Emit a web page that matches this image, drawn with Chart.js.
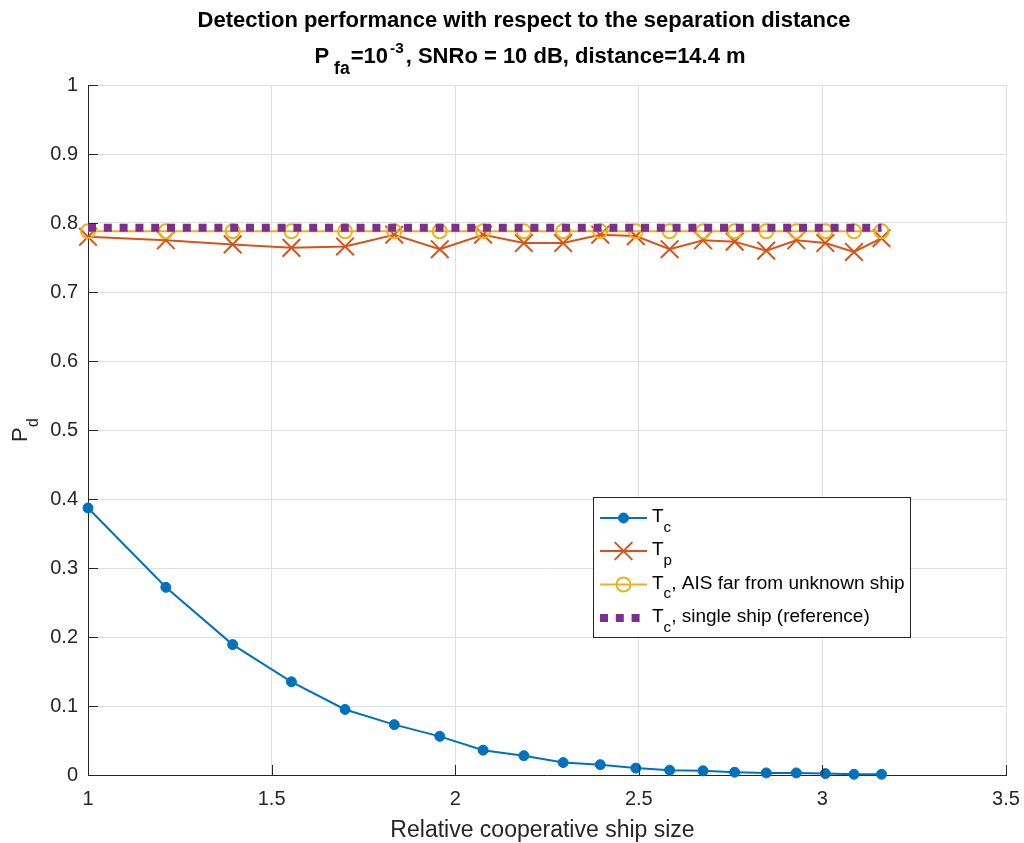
<!DOCTYPE html>
<html><head><meta charset="utf-8">
<script src="https://cdn.jsdelivr.net/npm/chart.js@4/dist/chart.umd.min.js"></script>
<style>html,body{margin:0;padding:0;background:#fff}#wrap{width:1024px;height:843px}</style>
</head><body><div id="wrap"><canvas id="c" width="1024" height="843"></canvas></div>
<script>
// ---- data ----
const xValues   = [1.000,1.212,1.394,1.554,1.700,1.834,1.958,2.076,2.187,2.294,2.395,2.492,2.584,2.675,2.761,2.847,2.929,3.008,3.086,3.161];
const tcValues  = [0.387,0.272,0.189,0.135,0.095,0.073,0.056,0.036,0.028,0.018,0.015,0.010,0.007,0.006,0.004,0.003,0.003,0.002,0.001,0.001];
const tpValues  = [0.780,0.775,0.769,0.764,0.766,0.783,0.762,0.783,0.771,0.771,0.783,0.781,0.762,0.775,0.773,0.760,0.775,0.771,0.758,0.778];
const aisValues = [0.788,0.788,0.788,0.788,0.788,0.788,0.788,0.788,0.788,0.788,0.788,0.788,0.788,0.788,0.788,0.788,0.788,0.788,0.788,0.788];
const refValues = [0.793,0.793,0.793,0.793,0.793,0.793,0.793,0.793,0.793,0.793,0.793,0.793,0.793,0.793,0.793,0.793,0.793,0.793,0.793,0.793];
const xTicks = [1,1.5,2,2.5,3,3.5];
const yTicks = [0,0.1,0.2,0.3,0.4,0.5,0.6,0.7,0.8,0.9,1];
const titleLine1 = [{t:'Detection performance with respect to the separation distance'}];
const titleLine2 = [{t:'P'},{t:'fa',sub:true,gap:5,scale:0.8},{t:'=10',gap:1},{t:'-3',sup:true,gap:2,scale:0.7},{t:', SNRo = 10 dB, distance=14.4 m',gap:2}];
const xLabel = [{t:'Relative cooperative ship size'}];
const yLabel = [{t:'P'},{t:'d',sub:true}];
const legendLabels = [
  [{t:'T'},{t:'c',sub:true}],
  [{t:'T'},{t:'p',sub:true}],
  [{t:'T'},{t:'c',sub:true},{t:', AIS far from unknown ship'}],
  [{t:'T'},{t:'c',sub:true},{t:', single ship (reference)'}]
];

const FONT = '"Liberation Sans", Arial, Helvetica, sans-serif';
const AX = '#262626';

function pts(xs, ys){ return xs.map((x,i)=>({x:x,y:ys[i]})); }

function partSize(p, size, subScale){ return (p.sub||p.sup) ? size*(p.scale||subScale) : size; }
function richWidth(ctx, parts, size, bold, subScale){
  let w=0;
  for(const p of parts){
    ctx.font = (bold?'bold ':'')+partSize(p,size,subScale)+'px '+FONT;
    w += (p.gap||0) + ctx.measureText(p.t).width;
  }
  return w;
}
function drawRich(ctx, parts, x, y, size, bold, align, color, subScale){
  subScale = subScale || 0.75;
  ctx.save();
  ctx.fillStyle = color || '#000';
  ctx.textBaseline = 'alphabetic';
  ctx.textAlign = 'left';
  const w = richWidth(ctx, parts, size, bold, subScale);
  let cx = align==='center' ? x - w/2 : x;
  for(const p of parts){
    ctx.font = (bold?'bold ':'')+partSize(p,size,subScale)+'px '+FONT;
    cx += (p.gap||0);
    const dy = p.sub ? size*0.5 : (p.sup ? -size*0.45 : 0);
    ctx.fillText(p.t, cx, y+dy);
    cx += ctx.measureText(p.t).width;
  }
  ctx.restore();
}

const decor = {
  id:'decor',
  afterDatasetsDraw(chart){
    const ctx = chart.ctx, a = chart.chartArea;
    const xs = chart.scales.x, ys = chart.scales.y;
    // inward ticks
    ctx.save();
    ctx.strokeStyle = AX; ctx.lineWidth = 1;
    ctx.beginPath();
    for(const v of yTicks){ const py = Math.round(ys.getPixelForValue(v))+0.5; ctx.moveTo(a.left, py); ctx.lineTo(a.left+10, py); }
    for(const v of xTicks){ const px = Math.round(xs.getPixelForValue(v))+0.5; ctx.moveTo(px, a.bottom); ctx.lineTo(px, a.bottom-10); }
    ctx.stroke();
    ctx.restore();
    // titles / labels
    drawRich(ctx, titleLine1, 524, 27, 22, true, 'center', '#000', 0.85);
    drawRich(ctx, titleLine2, 530, 63, 22, true, 'center', '#000', 0.85);
    drawRich(ctx, xLabel, 542.5, 837, 23, false, 'center', AX);
    ctx.save();
    ctx.translate(27, (a.top+a.bottom)/2);
    ctx.rotate(-Math.PI/2);
    drawRich(ctx, yLabel, 0, 0, 22, false, 'center', AX);
    ctx.restore();
    // legend
    const L = {x:593.5, y:497.5, w:317, h:140};
    ctx.save();
    ctx.fillStyle = '#fff'; ctx.fillRect(L.x, L.y, L.w, L.h);
    ctx.strokeStyle = AX; ctx.lineWidth = 1; ctx.strokeRect(L.x, L.y, L.w, L.h);
    ctx.restore();
    const rows = [518, 551, 584.5, 618];
    chart.data.datasets.forEach((ds)=>{
      const yRow = rows[ds.legendRow];
      ctx.save();
      ctx.strokeStyle = ds.borderColor; ctx.lineWidth = ds.borderWidth;
      if(ds.borderDash){ ctx.setLineDash(ds.borderDash); ctx.lineCap='butt'; }
      ctx.beginPath();
      if(ds.borderDash){ ctx.moveTo(600, yRow); ctx.lineTo(640, yRow); }
      else { ctx.moveTo(600, yRow); ctx.lineTo(647, yRow); }
      ctx.stroke();
      ctx.setLineDash([]);
      if(ds.pointRadius>0){
        ctx.fillStyle = ds.pointBackgroundColor; ctx.strokeStyle = ds.pointBorderColor; ctx.lineWidth = ds.pointBorderWidth;
        ctx.beginPath();
        if(ds.pointStyle==='circle'){
          ctx.arc(623.5, yRow, ds.pointRadius, 0, Math.PI*2);
          if(ds.pointBackgroundColor!=='transparent') ctx.fill();
          ctx.stroke();
        } else {
          const d = ds.pointRadius*Math.SQRT1_2;
          ctx.moveTo(623.5-d,yRow-d); ctx.lineTo(623.5+d,yRow+d);
          ctx.moveTo(623.5-d,yRow+d); ctx.lineTo(623.5+d,yRow-d);
          ctx.stroke();
        }
      }
      ctx.restore();
      drawRich(ctx, legendLabels[ds.legendRow], 652, yRow+4, 19, false, 'left', '#000', 0.8);
    });
  }
};

new Chart(document.getElementById('c'), {
  type:'line',
  data:{ datasets:[
    { label:'Tc', legendRow:0, data:pts(xValues,tcValues), borderColor:'#0072BD', backgroundColor:'#0072BD', borderWidth:2,
      pointStyle:'circle', pointRadius:5, pointBackgroundColor:'#0072BD', pointBorderColor:'#0072BD', pointBorderWidth:1, order:3, clip:false },
    { label:'Tp', legendRow:1, data:pts(xValues,tpValues), borderColor:'#D95319', backgroundColor:'transparent', borderWidth:2,
      pointStyle:'crossRot', pointRadius:12.5, pointBackgroundColor:'transparent', pointBorderColor:'#D95319', pointBorderWidth:2, order:2, clip:false },
    { label:'AIS', legendRow:2, data:pts(xValues,aisValues), borderColor:'#EDB120', backgroundColor:'transparent', borderWidth:2,
      pointStyle:'circle', pointRadius:7, pointBackgroundColor:'transparent', pointBorderColor:'#EDB120', pointBorderWidth:2, order:1, clip:false },
    { label:'ref', legendRow:3, data:pts(xValues,refValues), borderColor:'#7E2F8E', backgroundColor:'transparent', borderWidth:8,
      borderDash:[8,7.8], borderCapStyle:'butt', pointRadius:0, order:0, clip:false }
  ]},
  options:{
    responsive:false, animation:false, devicePixelRatio:1,
    layout:{ padding:{ left:0, top:85, right:18, bottom:0 } },
    plugins:{ legend:{display:false}, title:{display:false}, tooltip:{enabled:false} },
    elements:{ line:{ tension:0 } },
    scales:{
      x:{ type:'linear', min:1, max:3.5,
          afterFit(s){ s.height = 68; s.paddingLeft = 0; s.paddingRight = 0; },
          afterBuildTicks(s){ s.ticks = xTicks.map(v=>({value:v})); },
          ticks:{ font:{family:FONT, size:20}, color:AX, padding:12, maxRotation:0, callback:v=>String(v) },
          grid:{ color:'#dfdfdf', drawTicks:false, lineWidth:1 },
          border:{ display:true, color:AX, width:1 } },
      y:{ type:'linear', min:0, max:1,
          afterFit(s){ s.width = 88; s.paddingTop = 0; s.paddingBottom = 0; },
          afterBuildTicks(s){ s.ticks = yTicks.map(v=>({value:v})); },
          ticks:{ font:{family:FONT, size:20}, color:AX, padding:10, callback:v=>String(v) },
          grid:{ color:'#dfdfdf', drawTicks:false, lineWidth:1 },
          border:{ display:true, color:AX, width:1 } }
    }
  },
  plugins:[decor]
});
</script></body></html>
